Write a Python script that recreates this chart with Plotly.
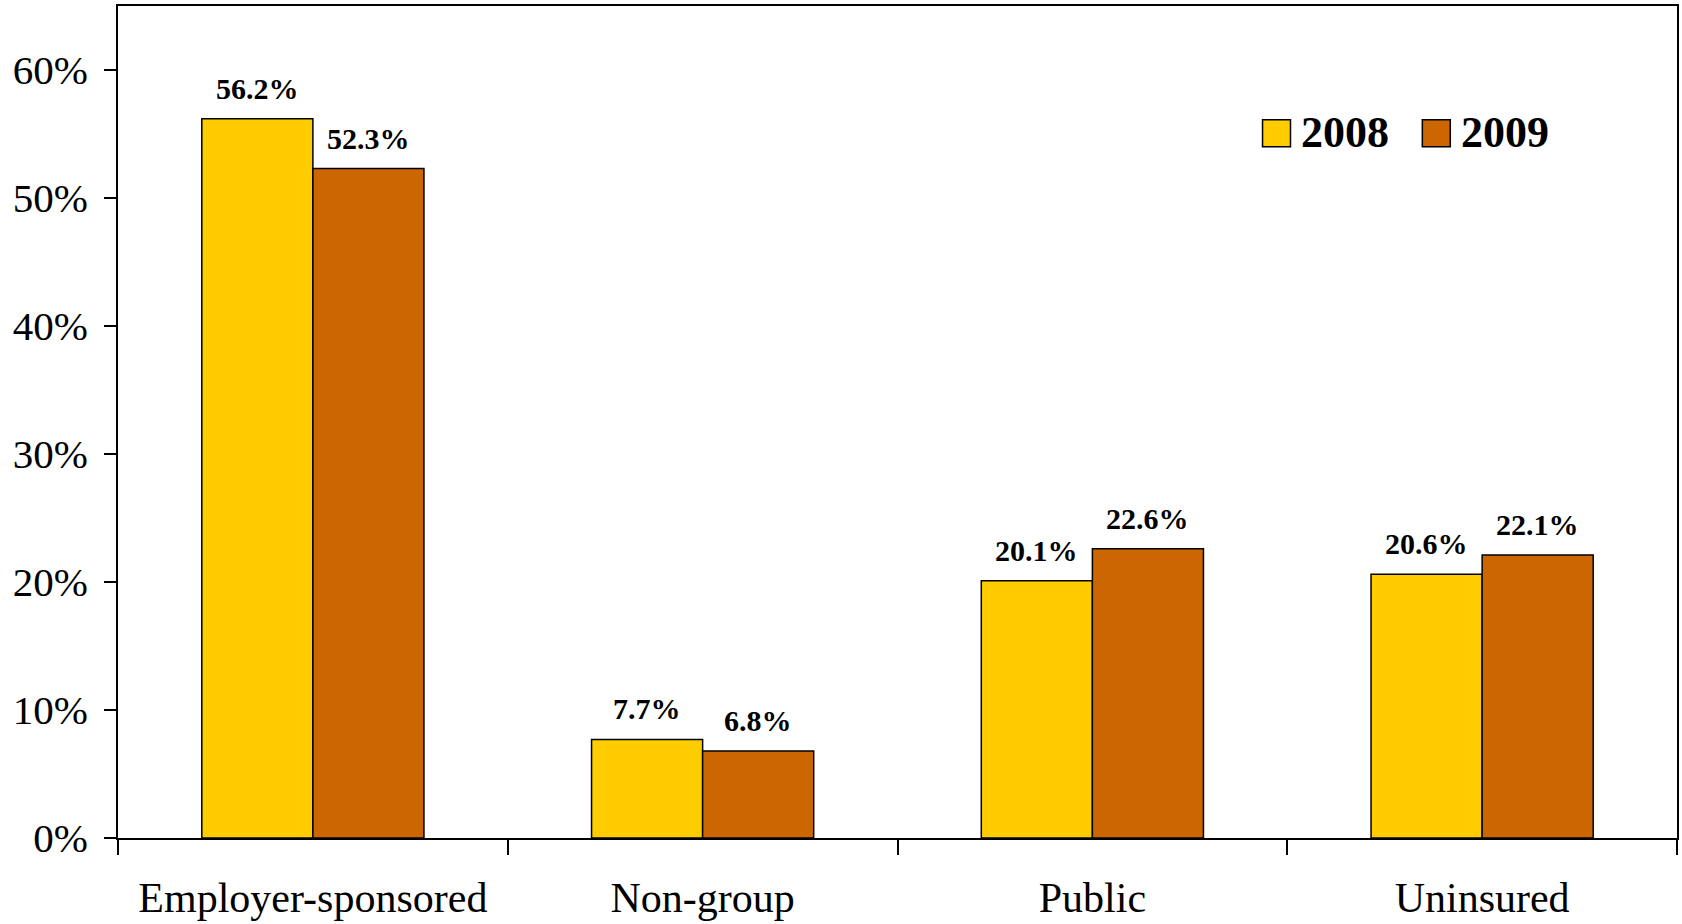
import plotly.graph_objects as go

categories = ["Employer-sponsored", "Non-group", "Public", "Uninsured"]
values_2008 = [56.2, 7.7, 20.1, 20.6]
values_2009 = [52.3, 6.8, 22.6, 22.1]
series_names = ["2008", "2009"]
series_colors = ["#FFCC00", "#CC6600"]
y_ticks = [0, 10, 20, 30, 40, 50, 60]
y_tick_labels = [f"{t}%" for t in y_ticks]

FONT = "Liberation Serif, Times New Roman, serif"

W, H = 1682, 924
M_L, M_R, M_T, M_B = 118, 3, 6, 84
PLOT_W = W - M_L - M_R
PLOT_H = H - M_T - M_B
BARGAP = 0.43

fig = go.Figure()
for name, vals, color in zip(series_names, [values_2008, values_2009], series_colors):
    fig.add_trace(go.Bar(
        x=categories,
        y=vals,
        name=name,
        marker=dict(color=color, line=dict(color="black", width=1.5)),
        showlegend=False,
    ))

# Value labels above each bar, offset to the centre of its bar within the group
cat_px = PLOT_W / len(categories)
bar_px = cat_px * (1 - BARGAP) / len(series_names)
for s, vals in enumerate([values_2008, values_2009]):
    xshift = (s - (len(series_names) - 1) / 2) * bar_px
    for cat, v in zip(categories, vals):
        fig.add_annotation(x=cat, y=v, xref="x", yref="y", text=f"<b>{v:.1f}%</b>",
                           showarrow=False, xanchor="center", yanchor="bottom",
                           xshift=xshift, yshift=12,
                           font=dict(family=FONT, size=30, color="black"))

# Legend drawn as squares with labels in the upper right
legend_x_px = [1264, 1424]
for x_px, name, color in zip(legend_x_px, series_names, series_colors):
    x0 = (x_px - M_L) / PLOT_W
    fig.add_shape(type="rect", xref="paper", yref="paper",
                  x0=x0, x1=x0 + 28 / PLOT_W,
                  y0=(H - M_B - 147) / PLOT_H, y1=(H - M_B - 120) / PLOT_H,
                  fillcolor=color, line=dict(color="black", width=1.5))
    fig.add_annotation(xref="paper", yref="paper", x=x0 + 37 / PLOT_W,
                       y=(H - M_B - 133) / PLOT_H,
                       text=f"<b>{name}</b>", showarrow=False, xanchor="left", yanchor="middle",
                       font=dict(family=FONT, size=44, color="black"))

fig.update_layout(
    width=W, height=H,
    margin=dict(l=M_L, r=M_R, t=M_T, b=M_B),
    paper_bgcolor="white", plot_bgcolor="white",
    barmode="group", bargap=BARGAP, bargroupgap=0,
    font=dict(family=FONT, color="black"),
)
fig.update_xaxes(
    showline=True, linecolor="black", linewidth=2, mirror=True,
    ticks="outside", tickson="boundaries", ticklen=15, tickwidth=1.5, tickcolor="black",
    tickfont=dict(family=FONT, size=42, color="black"),
    ticklabelstandoff=22,
    showgrid=False,
)
fig.update_yaxes(
    range=[0, 65], showline=True, linecolor="black", linewidth=2, mirror=True,
    ticks="outside", ticklen=12, tickwidth=1.5, tickcolor="black",
    tickvals=y_ticks, ticktext=y_tick_labels,
    tickfont=dict(family=FONT, size=41, color="black"),
    ticklabelstandoff=8,
    showgrid=False, zeroline=False,
)

fig.write_html("out.html")
